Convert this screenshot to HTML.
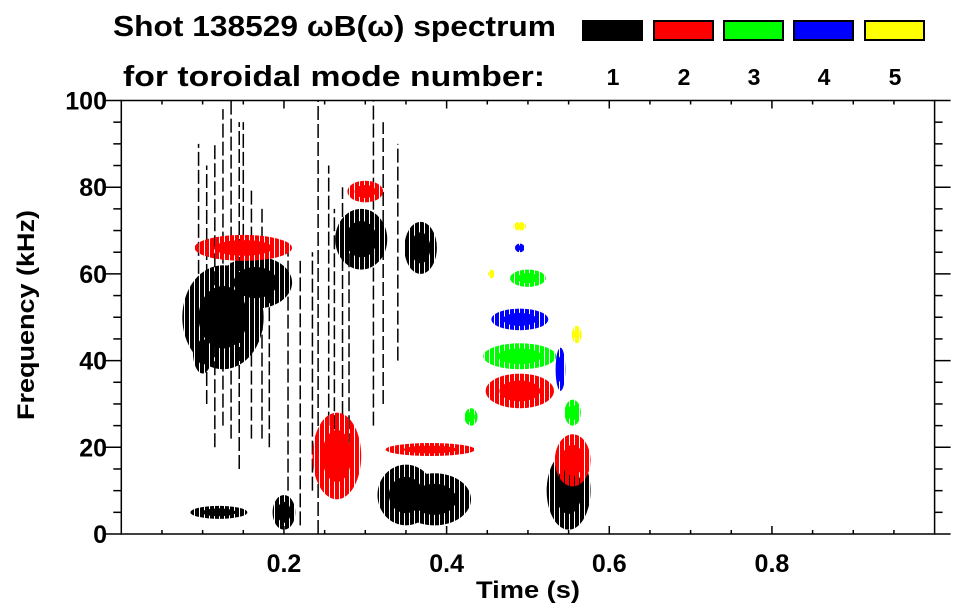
<!DOCTYPE html>
<html><head><meta charset="utf-8">
<style>
html,body{margin:0;padding:0;background:#fff;}
svg{display:block;font-family:"Liberation Sans",Arial,sans-serif;}
</style></head>
<body>
<svg id="chart" width="963" height="615" viewBox="0 0 963 615">
<defs>
<pattern id="p1" width="5" height="6" patternUnits="userSpaceOnUse"><rect width="4" height="6" fill="#000"/></pattern>
<pattern id="p2" width="5" height="6" patternUnits="userSpaceOnUse"><rect width="4" height="6" fill="#f00"/></pattern>
<pattern id="p3" width="5" height="6" patternUnits="userSpaceOnUse"><rect width="4" height="6" fill="#0f0"/></pattern>
<pattern id="p4" width="5" height="6" patternUnits="userSpaceOnUse"><rect width="4" height="6" fill="#00f"/></pattern>
<pattern id="p5" width="5" height="6" patternUnits="userSpaceOnUse"><rect width="4" height="6" fill="#ff0"/></pattern>
</defs>
<text x="113" y="36" font-size="29" font-weight="bold" textLength="443" lengthAdjust="spacingAndGlyphs">Shot 138529 ωB(ω) spectrum</text>
<text x="123" y="86" font-size="29" font-weight="bold" textLength="422" lengthAdjust="spacingAndGlyphs">for toroidal mode number:</text>
<g id="legend"></g>
<g id="marks"></g>
<g id="axes"></g>
<text x="476" y="598" font-size="24" font-weight="bold" textLength="104" lengthAdjust="spacingAndGlyphs">Time (s)</text>
<text transform="translate(34,420) rotate(-90)" font-size="24" font-weight="bold" textLength="210" lengthAdjust="spacingAndGlyphs">Frequency (kHz)</text>
</svg>
<script>
// ---- data ----
const modeNumbers = [1, 2, 3, 4, 5];
const modeColors = ['#000', '#f00', '#0f0', '#00f', '#ff0'];
const xTicks = [0.2, 0.4, 0.6, 0.8];
const yTicks = [0, 20, 40, 60, 80, 100];
// blobs: centre time, centre freq, half-width (s), half-height (kHz), mode
const blobTime = [0.125,0.165,0.10,0.20,0.12,0.295,0.368,0.385,0.35,0.55, 0.15,0.30,0.265,0.38,0.49,0.555, 0.49,0.50,0.555,0.43, 0.49,0.49,0.54, 0.49,0.455,0.56];
const blobFreq = [50,58,42,5,5,68,66,8,9,10, 66,79,18,19.5,33,17, 41,59,28,27, 49.5,66,38, 71,60,46];
const blobDt   = [0.05,0.045,0.012,0.014,0.035,0.032,0.02,0.045,0.035,0.027, 0.06,0.022,0.03,0.055,0.042,0.022, 0.045,0.022,0.01,0.008, 0.035,0.006,0.006, 0.008,0.004,0.006];
const blobDf   = [12,6,5,4,1.5,7,6,6,7,9, 3,2.5,10,1.5,4,6, 3,2,3,2, 2.5,1,5, 1,1,2];
const blobMode = [1,1,1,1,1,1,1,1,1,1, 2,2,2,2,2,2, 3,3,3,3, 4,4,4, 5,5,5];
// vertical streaks: time, freq from, freq to, mode
const streakTime = [0.242,0.220,0.205,0.182,0.173,0.160,0.145,0.135,0.125,0.115,0.105,0.235,0.255,0.262,0.272,0.28,0.31,0.322,0.34,0.15,0.095];
const streakLo   = [0,2,10,20,22,22,15,22,25,20,30,10,25,20,15,20,25,30,40,60,60];
const streakHi   = [100,63,65,60,75,80,95,100,98,90,85,65,85,75,80,70,100,95,90,95,90];
const streakMode = [1,1,1,1,1,1,1,1,1,1,1,1,1,1,1,1,1,1,1,1,1];

// ---- axes ----
const X0=121.3, X1=934.6, Y0=534, Y1=100.5;
const sx = t => X0 + t*(X1-X0);
const sy = f => Y0 - f/100*(Y0-Y1);
const NS='http://www.w3.org/2000/svg';
function mk(tag, attrs, parent){const e=document.createElementNS(NS,tag);for(const k in attrs)e.setAttribute(k,attrs[k]);parent.appendChild(e);return e;}

const marks=document.getElementById('marks');
for(let i=0;i<streakTime.length;i++){
  const l=mk('line',{x1:sx(streakTime[i]),x2:sx(streakTime[i]),y1:sy(streakLo[i]),y2:sy(streakHi[i]),stroke:modeColors[streakMode[i]-1],'stroke-width':1.5,'stroke-dasharray':'14 4'},marks);
  
  
}
for(let i=0;i<blobTime.length;i++){
  const cx=sx(blobTime[i]), cy=sy(blobFreq[i]);
  const rx=sx(blobTime[i]+blobDt[i])-cx, ry=cy-sy(blobFreq[i]+blobDf[i]);
  const e=mk('ellipse',{cx:cx,cy:cy,rx:rx,ry:ry,fill:'url(#p'+blobMode[i]+')'},marks);
  
  
  const c=mk('ellipse',{cx:cx,cy:cy,rx:rx*0.6,ry:ry*0.6,fill:modeColors[blobMode[i]-1]},marks);
  
  
}

const axes=document.getElementById('axes');
const frame=mk('rect',{x:X0,y:Y1,width:X1-X0,height:Y0-Y1,fill:'none',stroke:'#000','stroke-width':1.5},axes);


for(let t=0.05;t<1;t+=0.05){
  const major=Math.abs(t*5-Math.round(t*5))<1e-6;
  const len=major?8:4;
  mk('line',{x1:sx(t),x2:sx(t),y1:Y0,y2:Y0-len,stroke:'#000','stroke-width':1.5},axes);
  mk('line',{x1:sx(t),x2:sx(t),y1:Y1,y2:Y1+len,stroke:'#000','stroke-width':1.5},axes);
}
for(let f=5;f<100;f+=5){
  const major=f%20===0;
  const len=major?16:8;
  mk('line',{x1:X0-len,x2:X0,y1:sy(f),y2:sy(f),stroke:'#000','stroke-width':1.5},axes);
  mk('line',{x1:X1,x2:X1+len,y1:sy(f),y2:sy(f),stroke:'#000','stroke-width':1.5},axes);
}
for(const f of [0,100]){
  mk('line',{x1:X0-16,x2:X0,y1:sy(f),y2:sy(f),stroke:'#000','stroke-width':1.5},axes);
  mk('line',{x1:X1,x2:X1+16,y1:sy(f),y2:sy(f),stroke:'#000','stroke-width':1.5},axes);
}
xTicks.forEach(t=>{
  const tx=mk('text',{x:sx(t),y:572,'font-size':25,'font-weight':'bold','text-anchor':'middle'},axes);
  tx.textContent=t.toFixed(1);
  
  
});
yTicks.forEach(f=>{
  const ty=mk('text',{x:107,y:sy(f)+9,'font-size':25,'font-weight':'bold','text-anchor':'end'},axes);
  ty.textContent=f;
  
  
});

const legend=document.getElementById('legend');
const legX=[582,653,723,793,864];
modeNumbers.forEach((m,i)=>{
  const r=mk('rect',{x:legX[i]+1,y:21,width:59,height:19,fill:modeColors[i],stroke:'#000','stroke-width':2},legend);
  
  
  const tx=mk('text',{x:legX[i]+31,y:85,'font-size':23,'font-weight':'bold','text-anchor':'middle'},legend);
  tx.textContent=m;
  
  
});
</script>
</body></html>
